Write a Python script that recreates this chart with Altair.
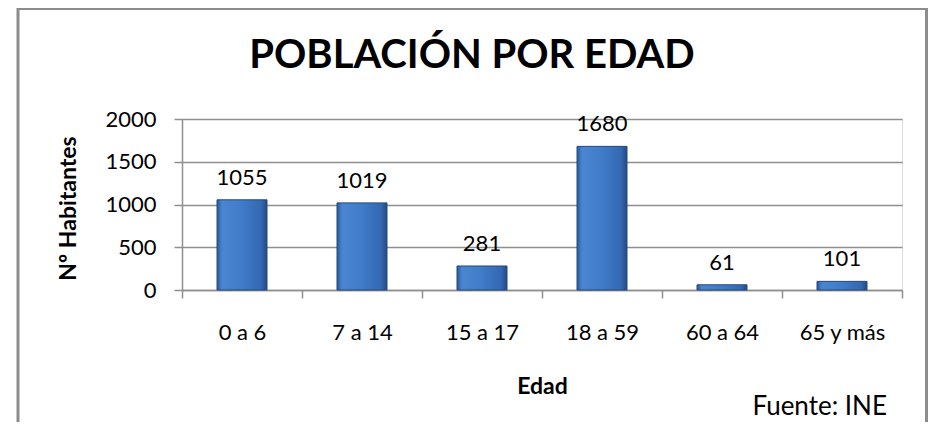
import altair as alt
import pandas as pd

categories = ["0 a 6", "7 a 14", "15 a 17", "18 a 59", "60 a 64", "65 y más"]
values = [1055, 1019, 281, 1680, 61, 101]
y_ticks = [0, 500, 1000, 1500, 2000]
title_text = "POBLACIÓN POR EDAD"
source_text = "Fuente: INE"
x_title = "Edad"
y_title = "Nº Habitantes"

df = pd.DataFrame({"edad": categories, "hab": values})
one = pd.DataFrame({"t": [title_text], "s": [source_text]})

FONT = "Lato"
GRID = "#8f8f8f"

x_enc = alt.X(
    "edad:N",
    sort=categories,
    scale=alt.Scale(paddingInner=0, paddingOuter=0),
    axis=alt.Axis(
        title=x_title,
        labelAngle=0,
        tickBand="extent",
        domainColor=GRID,
        domainWidth=1.5,
        tickColor=GRID,
        tickWidth=1.5,
        tickSize=8,
        labelFont=FONT,
        labelFontSize=22,
        labelColor="#000000",
        labelPadding=24,
        titleFont=FONT,
        titleFontSize=23,
        titleFontWeight="bold",
        titleColor="#000000",
        titleX=360,
        titleY=96,
        titleBaseline="middle",
        titleAlign="center",
        grid=False,
    ),
)

y_enc = alt.Y(
    "hab:Q",
    scale=alt.Scale(domain=[0, 2000], nice=False),
    axis=alt.Axis(
        values=y_ticks,
        format="d",
        title=y_title,
        grid=True,
        gridColor=GRID,
        gridWidth=1.5,
        domainColor=GRID,
        domainWidth=1.5,
        tickColor=GRID,
        tickWidth=1.5,
        tickSize=8,
        labelFont=FONT,
        labelFontSize=22,
        labelColor="#000000",
        labelPadding=18,
        titleFont=FONT,
        titleFontSize=23,
        titleFontWeight="bold",
        titleColor="#000000",
        titleAngle=270,
        titleX=-114,
        titleY=89,
        titleBaseline="middle",
        titleAlign="center",
    ),
)

grad = alt.Gradient(
    gradient="linear",
    x1=0, x2=1, y1=0, y2=0,
    stops=[
        alt.GradientStop(offset=0, color="#2b5797"),
        alt.GradientStop(offset=0.1, color="#4a86d0"),
        alt.GradientStop(offset=0.5, color="#3f7bc8"),
        alt.GradientStop(offset=0.88, color="#3468b2"),
        alt.GradientStop(offset=1, color="#23497f"),
    ],
)

bars = alt.Chart(df).mark_bar(size=50, color=grad, stroke="#244a80", strokeWidth=1).encode(
    x=x_enc, y=y_enc
)

labels = alt.Chart(df).mark_text(
    font=FONT, fontSize=22, color="#000000", baseline="middle", dy=-22
).encode(x=alt.X("edad:N", sort=categories), y="hab:Q", text="hab:Q")

title = alt.Chart(one).mark_text(
    font=FONT, fontSize=40, fontWeight="bold", color="#000000", align="center", baseline="middle"
).encode(x=alt.value(290), y=alt.value(-63), text="t:N")

source = alt.Chart(one).mark_text(
    font=FONT, fontSize=26, color="#000000", align="right", baseline="middle"
).encode(x=alt.value(705), y=alt.value(288), text="s:N")

border = alt.Chart(one).mark_rect(
    filled=False, stroke="#8c8c8c", strokeWidth=3
).encode(x=alt.value(-164), x2=alt.value(744.5), y=alt.value(-110.5), y2=alt.value(340))

chart = (
    alt.layer(border, bars, labels, title, source)
    .properties(
        width=720,
        height=171,
        padding={"left": 174, "top": 111, "right": 26, "bottom": 132},
        autosize=alt.AutoSizeParams(type="none"),
    )
    .configure_view(strokeWidth=0)
    .configure(font=FONT, background="#ffffff")
)

chart.save("out.html", embed_options={"renderer": "svg", "actions": False})
